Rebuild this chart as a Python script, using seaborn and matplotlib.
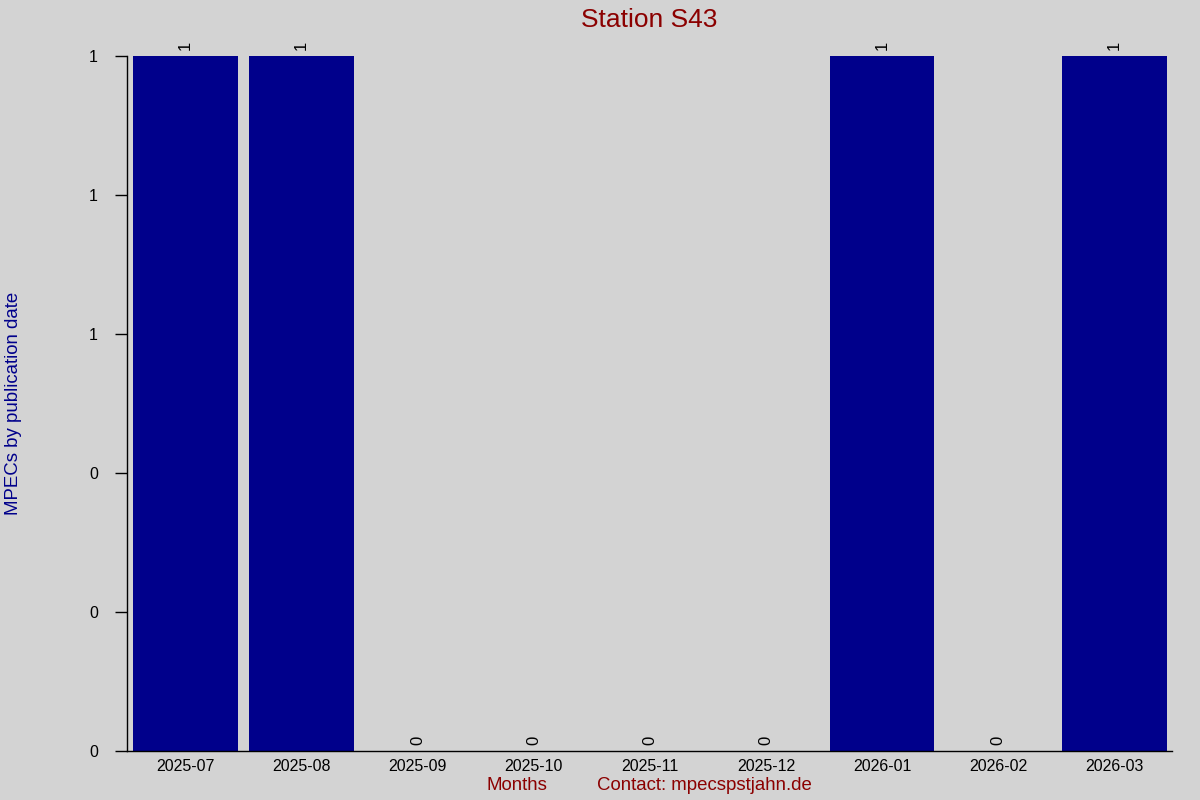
import matplotlib
matplotlib.use("Agg")
import matplotlib.pyplot as plt
from matplotlib.ticker import FormatStrFormatter
import seaborn as sns

months = ["2025-07", "2025-08", "2025-09", "2025-10", "2025-11",
          "2025-12", "2026-01", "2026-02", "2026-03"]
counts = [1, 1, 0, 0, 0, 0, 1, 0, 1]

station = "Station S43"
contact = "Contact: mpecspstjahn.de"

sns.set_style("ticks")
plt.rcParams["font.family"] = ["Liberation Sans", "DejaVu Sans"]

bg = "#d3d3d3"
fig = plt.figure(figsize=(12, 8), dpi=100, facecolor=bg)
ax = fig.add_axes([0.106, 0.06125, 0.871, 0.869], facecolor=bg)

sns.barplot(x=months, y=counts, color="#00008b", saturation=1, width=0.9,
            linewidth=0, edgecolor="none", ax=ax)

for cont in ax.containers:
    ax.bar_label(cont, rotation=90, padding=4, fontsize=12, color="black")

ax.set_xlim(-0.5, 8.5)
ax.set_ylim(0, 1)
ax.set_yticks([0, 0.2, 0.4, 0.6, 0.8, 1.0])
ax.yaxis.set_major_formatter(FormatStrFormatter("%.0f"))

ax.spines["top"].set_visible(False)
ax.spines["right"].set_visible(False)
for side in ["left", "bottom"]:
    ax.spines[side].set_color("black")
    ax.spines[side].set_linewidth(1)
ax.tick_params(axis="x", length=0, pad=6, labelsize=11.5, labelcolor="black")
ax.tick_params(axis="y", length=9, width=1, pad=12, labelsize=11.5,
               labelcolor="black", color="black")

ax.set_xlabel("")
ax.set_ylabel("")
fig.text(0.004, 0.496, "MPECs by publication date", rotation=90,
         ha="left", va="center", fontsize=13.4, color="#00008b")
fig.text(0.431, 0.0175, "Months", ha="center", va="center",
         fontsize=13.4, color="#8b0000")
fig.text(0.587, 0.0175, contact, ha="center", va="center",
         fontsize=13.4, color="#8b0000")
fig.text(0.541, 0.975, station, ha="center", va="center",
         fontsize=19, color="#8b0000")

fig.savefig("out.png", dpi=100, facecolor=bg)
